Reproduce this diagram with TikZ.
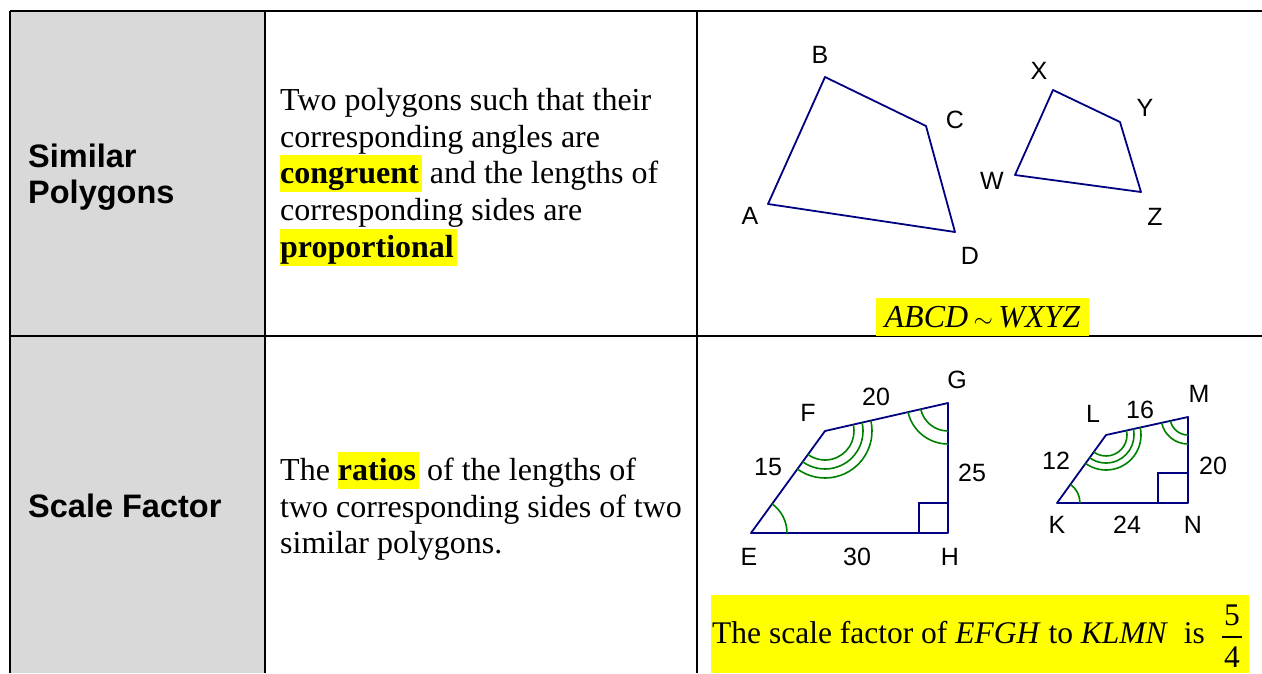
\documentclass[tikz,border=0pt]{standalone}
\usepackage{fontspec}
\setmainfont{Liberation Serif}
\setsansfont{Liberation Sans}
\definecolor{navy}{RGB}{0,0,128}
\definecolor{grn}{RGB}{0,128,0}
\definecolor{hly}{RGB}{255,255,0}
\definecolor{cellgray}{RGB}{217,217,217}
\newcommand{\hlt}[1]{{\setlength{\fboxsep}{0pt}\colorbox{hly}{\rule[-8.5pt]{0pt}{37pt}#1\hspace{3pt}}}}
\begin{document}
\begin{tikzpicture}[x=1pt,y=-1pt,
  body/.style={anchor=base west, inner sep=0pt, font=\fontsize{32}{37}\selectfont},
  head/.style={anchor=base west, inner sep=0pt, font=\sffamily\bfseries\fontsize{32.5}{36}\selectfont},
  lbl/.style={inner sep=0pt, font=\sffamily\fontsize{25}{28}\selectfont},
  poly/.style={draw=navy, line width=1.8pt, line join=round},
  ang/.style={draw=grn, line width=1.6pt},
  gridline/.style={line width=2pt, draw=black}]
\useasboundingbox (0,0) rectangle (1262,673);
% table
\fill[cellgray] (10,11) rectangle (265,673);
\draw[gridline] (10,11) -- (1262,11);
\draw[gridline] (10,336) -- (1262,336);
\draw[gridline] (10,11) -- (10,673);
\draw[gridline] (265,11) -- (265,673);
\draw[gridline] (697,11) -- (697,673);
% headings
\node[head] (h1a) at (28,167) {Similar};
\node[head] (h1b) at (28,203) {Polygons};
\node[head] (h2) at (28,517) {Scale Factor};
% definitions
\node[body] (t1a) at (280,110) {Two polygons such that their};
\node[body] (t1b) at (280,147) {corresponding angles are};
\node[body] (t1c) at (280,183) {\hlt{\textbf{congruent}} and the lengths of};
\node[body] (t1d) at (280,220) {corresponding sides are};
\node[body] (t1e) at (280,257) {\hlt{\textbf{proportional}}};
\node[body] (t2a) at (280,480) {The \hlt{\textbf{ratios}} of the lengths of};
\node[body] (t2b) at (280,517) {two corresponding sides of two};
\node[body] (t2c) at (280,553) {similar polygons.};
% ABCD and WXYZ
\coordinate (A) at (768,204);
\coordinate (B) at (825,77);
\coordinate (C) at (926,126);
\coordinate (D) at (955,232);
\coordinate (W) at (1015,175);
\coordinate (X) at (1053,90);
\coordinate (Y) at (1120,122);
\coordinate (Z) at (1141,192);
\draw[poly] (A) -- (B) -- (C) -- (D) -- cycle;
\draw[poly] (W) -- (X) -- (Y) -- (Z) -- cycle;
\node[lbl] (lA) at (750,216) {A};
\node[lbl] (lB) at (820,55) {B};
\node[lbl] (lC) at (955,120) {C};
\node[lbl] (lD) at (970,256) {D};
\node[lbl] (lW) at (992,181) {W};
\node[lbl] (lX) at (1039,71) {X};
\node[lbl] (lY) at (1145,108) {Y};
\node[lbl] (lZ) at (1155,217) {Z};
\node[fill=hly, inner sep=0pt, minimum width=213pt, minimum height=38pt,
  font=\fontsize{32}{36}\selectfont] (sim) at (982.5,317)
  {\textit{ABCD}\,$\sim$\,\textit{WXYZ}};
% EFGH
\coordinate (E) at (751,533);
\coordinate (F) at (825,431);
\coordinate (G) at (948,403);
\coordinate (H) at (948,533);
\draw[poly] (E) -- (F) -- (G) -- (H) -- cycle;
\draw[draw=navy, line width=1.6pt] (919,533) -- (919,503) -- (948,503);
\draw[ang] ([shift={(-54:36)}]E) arc[start angle=-54, end angle=0, radius=36];
\foreach \r in {29,38,47}
  \draw[ang] ([shift={(-12.8:\r)}]F) arc[start angle=-12.8, end angle=126, radius=\r];
\foreach \r in {28,41}
  \draw[ang] ([shift={(90:\r)}]G) arc[start angle=90, end angle=167.2, radius=\r];
\node[lbl] (lE) at (749,557) {E};
\node[lbl] (lF) at (808,413) {F};
\node[lbl] (lG) at (957,380) {G};
\node[lbl] (lH) at (950,557) {H};
\node[lbl] (l15) at (768,467) {15};
\node[lbl] (l20a) at (876,397) {20};
\node[lbl] (l25) at (972,473) {25};
\node[lbl] (l30) at (857,557) {30};
% KLMN
\coordinate (K) at (1057,503);
\coordinate (L) at (1106,435);
\coordinate (M) at (1188,417);
\coordinate (N) at (1188,503);
\draw[poly] (K) -- (L) -- (M) -- (N) -- cycle;
\draw[draw=navy, line width=1.6pt] (1158,503) -- (1158,473) -- (1188,473);
\draw[ang] ([shift={(-54:23)}]K) arc[start angle=-54, end angle=0, radius=23];
\foreach \r in {21,28,35}
  \draw[ang] ([shift={(-12.4:\r)}]L) arc[start angle=-12.4, end angle=125.8, radius=\r];
\foreach \r in {18,27}
  \draw[ang] ([shift={(90:\r)}]M) arc[start angle=90, end angle=167.6, radius=\r];
\node[lbl] (lK) at (1057,525) {K};
\node[lbl] (lL) at (1093,414) {L};
\node[lbl] (lM) at (1199,394) {M};
\node[lbl] (lN) at (1193,525) {N};
\node[lbl] (l12) at (1056,461) {12};
\node[lbl] (l16) at (1140,410) {16};
\node[lbl] (l20b) at (1213,466) {20};
\node[lbl] (l24) at (1127,525) {24};
% scale factor sentence
\fill[hly] (711,595) rectangle (1249,673);
\node[body, font=\fontsize{31.5}{37}\selectfont] (sf) at (712,643) {The scale factor of \textit{EFGH} to \textit{KLMN}\ \ is};
\node[body, anchor=base, font=\fontsize{31.5}{37}\selectfont] (five) at (1232,625) {5};
\node[body, anchor=base, font=\fontsize{31.5}{37}\selectfont] (four) at (1232,667) {4};
\coordinate (barL) at (1222,637);
\coordinate (barR) at (1242,637);
\draw[line width=1.2pt] (barL) -- (barR);
\end{tikzpicture}
\end{document}
